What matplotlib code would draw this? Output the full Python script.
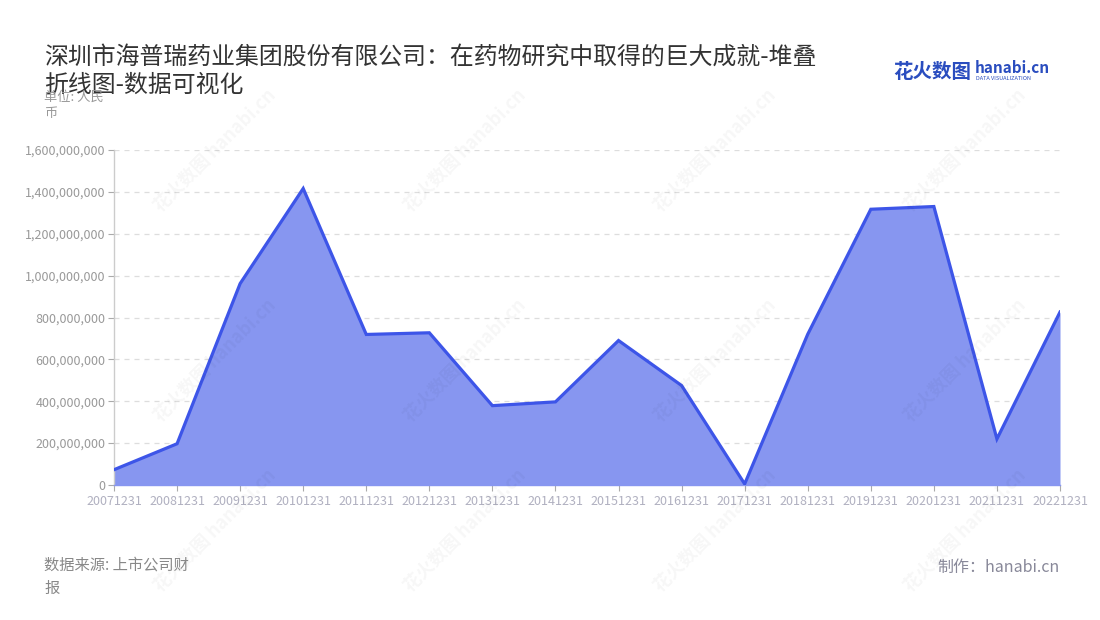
import matplotlib
matplotlib.use("Agg")
import matplotlib.pyplot as plt
from matplotlib.ticker import FuncFormatter, MultipleLocator

plt.rcParams['font.family'] = ['Noto Sans CJK SC', 'DejaVu Sans']

# ---- data ----
dates = ["20071231", "20081231", "20091231", "20101231", "20111231", "20121231",
         "20131231", "20141231", "20151231", "20161231", "20171231", "20181231",
         "20191231", "20201231", "20211231", "20221231"]
values = [73e6, 197e6, 962e6, 1416e6, 719e6, 727e6,
          379e6, 397e6, 690e6, 475e6, 5e6, 720e6,
          1317e6, 1330e6, 220e6, 826e6]
title = "深圳市海普瑞药业集团股份有限公司：在药物研究中取得的巨大成就-堆叠\n折线图-数据可视化"
unit = "单位: 人民\n币"
source = "数据来源: 上市公司财\n报"
maker = "制作：hanabi.cn"

fig = plt.figure(figsize=(11, 6.2), dpi=100)
ax = fig.add_axes([114/1100, 1-485/620, (1060-114)/1100, (485-150)/620])

x = list(range(len(dates)))
ax.fill_between(x, values, 0, color="#8796f0", linewidth=0, zorder=2)
ax.plot(x, values, color="#3d55e8", linewidth=2.3, zorder=3, solid_joinstyle="miter")

ax.set_xlim(0, len(dates) - 1)
ax.set_ylim(0, 1.6e9)
ax.yaxis.set_major_locator(MultipleLocator(2e8))
ax.yaxis.set_major_formatter(FuncFormatter(lambda v, p: f"{int(v):,}"))
ax.set_xticks(x)
ax.set_xticklabels(dates)

ax.grid(axis="y", color="#dddddd", linestyle=(0, (4, 4)), linewidth=0.9, zorder=1)
ax.set_axisbelow(True)
for s in ["top", "right"]:
    ax.spines[s].set_visible(False)
ax.spines["left"].set_color("#cccccc")
ax.spines["left"].set_linewidth(1.0)
ax.spines["bottom"].set_color("#8796f0")
ax.spines["bottom"].set_linewidth(1.0)
ax.tick_params(axis="y", colors="#aaaaaa", labelcolor="#999999", labelsize=9, length=4, width=0.8, pad=2)
ax.tick_params(axis="x", colors="#aaaaaa", labelcolor="#b0b0c0", labelsize=9, length=4, width=0.8, pad=3)
ax.set_facecolor("white")

# watermarks
for (wx, wy) in [(150, 150), (150, 360), (150, 530), (400, 150), (400, 360), (400, 530),
                 (650, 150), (650, 360), (650, 530), (900, 150), (900, 360), (900, 530)]:
    fig.text(wx/1100, 1-wy/620, "花火数图 hanabi.cn", fontsize=13, color="#000000", alpha=0.035,
             rotation=45, ha="left", va="center", fontweight="bold")

fig.text(44/1100, 1-71/620, title, fontsize=17.2, color="#333333", ha="left", va="center",
         linespacing=1.3)
fig.text(44/1100, 1-105/620, unit, fontsize=9.5, color="#999999", ha="left", va="center",
         linespacing=1.3)
fig.text(44/1100, 1-577/620, source, fontsize=11, color="#888888", ha="left", va="center",
         linespacing=1.5)
fig.text(1060/1100, 1-567/620, maker, fontsize=11.5, color="#888899", ha="right", va="center")

# logo
fig.text(893/1100, 1-72/620, "花火数图", fontsize=14, color="#2a4dbf", fontweight="bold",
         ha="left", va="center")
fig.text(975/1100, 1-68/620, "hanabi.cn", fontsize=11, color="#2a4dbf", fontweight="bold",
         ha="left", va="center")
fig.text(976/1100, 1-79/620, "DATA VISUALIZATION", fontsize=4, color="#2a4dbf",
         ha="left", va="center")

fig.savefig("out.png", dpi=100, facecolor="white")
